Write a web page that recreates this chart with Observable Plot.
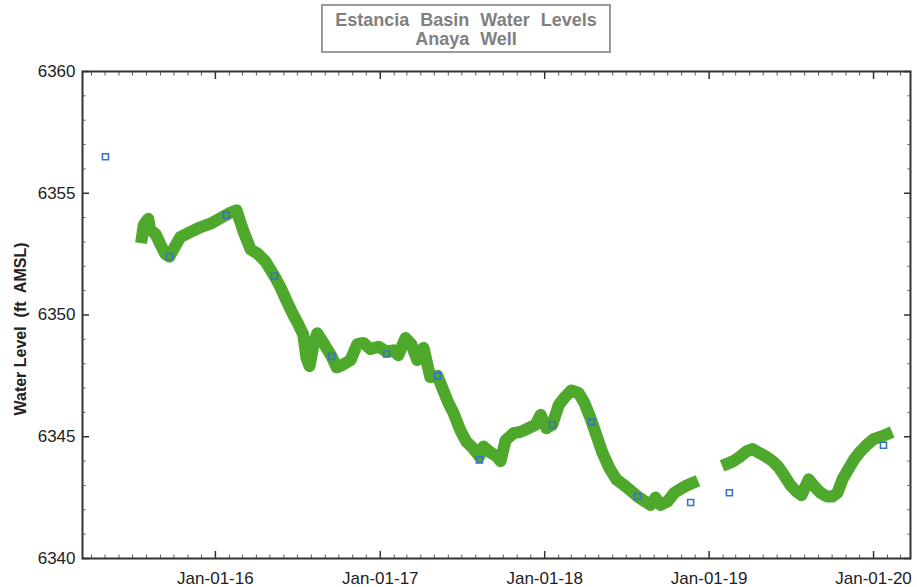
<!DOCTYPE html>
<html>
<head>
<meta charset="utf-8">
<script src="https://cdn.jsdelivr.net/npm/d3@7"></script>
<script src="https://cdn.jsdelivr.net/npm/@observablehq/plot@0.6"></script>
<style>
  body { margin: 0; background: #fff; font-family: "Liberation Sans", Arial, sans-serif; }
  #head { position: relative; width: 917px; height: 60px; }
  #title { position: absolute; left: 321px; top: 4px; width: 290px; height: 49px; box-sizing: border-box;
           border: 2px solid #9a9a9a; color: #808080; font-weight: bold; font-size: 18px; line-height: 19px;
           text-align: center; word-spacing: 6px; padding-top: 5px; white-space: nowrap; }
</style>
</head>
<body>
<div id="head"><div id="title">Estancia Basin Water Levels<br>Anaya Well</div></div>
<div id="chart"></div>
<script>
// Continuous (logger) record, segment 1
const seg1Dates = ["2015-07-22","2015-07-26","2015-08-05","2015-08-09","2015-08-21","2015-09-01","2015-09-12","2015-09-21","2015-09-30","2015-10-15","2015-11-06","2015-11-28","2015-12-21","2016-01-19","2016-02-03","2016-02-17","2016-03-03","2016-03-19","2016-04-05","2016-04-21","2016-05-11","2016-05-24","2016-06-09","2016-06-22","2016-07-01","2016-07-14","2016-07-21","2016-07-28","2016-08-06","2016-08-14","2016-08-28","2016-09-15","2016-09-26","2016-10-09","2016-10-27","2016-11-11","2016-11-25","2016-12-10","2016-12-28","2017-01-15","2017-01-30","2017-02-10","2017-02-26","2017-03-11","2017-03-24","2017-04-07","2017-04-22","2017-05-08","2017-05-21","2017-06-01","2017-06-12","2017-06-28","2017-07-11","2017-07-25","2017-08-09","2017-08-18","2017-09-03","2017-09-16","2017-09-25","2017-10-06","2017-10-24","2017-11-08","2017-11-26","2017-12-12","2017-12-23","2018-01-05","2018-01-18","2018-02-01","2018-02-16","2018-03-01","2018-03-17","2018-03-30","2018-04-13","2018-04-26","2018-05-09","2018-05-25","2018-06-09","2018-06-27","2018-07-13","2018-07-26","2018-08-11","2018-08-24","2018-09-04","2018-09-15","2018-10-01","2018-10-16","2018-10-29","2018-11-12","2018-11-25"];
const seg1Levels = [6353.2,6353.7,6353.95,6353.5,6353.33,6352.9,6352.5,6352.4,6352.7,6353.2,6353.4,6353.6,6353.75,6354.05,6354.2,6354.3,6353.45,6352.7,6352.5,6352.2,6351.6,6351.15,6350.5,6350.0,6349.7,6349.2,6348.25,6347.9,6348.8,6349.25,6348.85,6348.3,6347.85,6347.95,6348.15,6348.8,6348.85,6348.6,6348.7,6348.5,6348.55,6348.35,6349.05,6348.8,6348.15,6348.65,6347.45,6347.5,6346.9,6346.4,6346.0,6345.25,6344.8,6344.55,6344.2,6344.6,6344.35,6344.2,6344.0,6344.85,6345.15,6345.2,6345.35,6345.5,6345.9,6345.35,6345.5,6346.3,6346.65,6346.9,6346.8,6346.4,6345.75,6345.05,6344.35,6343.7,6343.25,6343.0,6342.75,6342.55,6342.35,6342.2,6342.5,6342.2,6342.35,6342.7,6342.85,6343.0,6343.1];
// Continuous record, segment 2
const seg2Dates = ["2019-02-11","2019-02-24","2019-03-12","2019-03-25","2019-04-07","2019-04-21","2019-05-06","2019-05-22","2019-06-04","2019-06-17","2019-07-01","2019-07-14","2019-07-25","2019-08-10","2019-08-23","2019-09-05","2019-09-19","2019-10-02","2019-10-13","2019-10-24","2019-11-07","2019-11-20","2019-12-03","2019-12-19","2020-01-01","2020-01-17","2020-01-30"];
const seg2Levels = [6343.9,6344.0,6344.2,6344.4,6344.5,6344.35,6344.2,6344.0,6343.75,6343.4,6343.0,6342.75,6342.6,6343.25,6342.95,6342.7,6342.55,6342.55,6342.7,6343.25,6343.7,6344.1,6344.4,6344.7,6344.9,6345.0,6345.1];
// Manual measurements
const manualDates = ["2015-05-02","2015-09-21","2016-01-25","2016-05-11","2016-09-15","2017-01-15","2017-05-08","2017-08-09","2018-01-18","2018-04-15","2018-07-26","2018-11-21","2019-02-15","2020-01-23"];
const manualLevels = [6356.5,6352.4,6354.1,6351.6,6348.3,6348.4,6347.5,6344.05,6345.5,6345.6,6342.55,6342.3,6342.7,6344.65];
// Axes
const xDomain = ["2015-03-12","2020-03-23"];
const xTicks = ["2016-01-01","2017-01-01","2018-01-01","2019-01-01","2020-01-01"];
const yDomain = [6340, 6360];
const yTicks = [6340, 6345, 6350, 6355, 6360];
const yMinorTicks = [6341,6342,6343,6344,6346,6347,6348,6349,6351,6352,6353,6354,6356,6357,6358,6359];
const yLabel = "Water Level  (ft  AMSL)";

const P = d3.utcParse("%Y-%m-%d");
const seg1 = seg1Dates.map((d, i) => ({date: P(d), level: seg1Levels[i]}));
const seg2 = seg2Dates.map((d, i) => ({date: P(d), level: seg2Levels[i]}));
const manual = manualDates.map((d, i) => ({date: P(d), level: manualLevels[i]}));
const xt = xTicks.map(P);
const xMinor = d3.utcMonth.range(P(xDomain[0]), P(xDomain[1])).filter(d => d.getUTCMonth() !== 0);

const green = "#4ea82b";
const fmt = d3.utcFormat("%b-%d-%y");

const chart = Plot.plot({
  width: 917,
  height: 527,
  marginLeft: 82,
  marginRight: 7,
  marginTop: 11,
  marginBottom: 29,
  style: {fontFamily: "'Liberation Sans', Arial, sans-serif", fontSize: "17px", color: "#222", background: "white"},
  x: {type: "utc", domain: xDomain.map(P)},
  y: {domain: yDomain},
  marks: [
    Plot.line(seg1, {x: "date", y: "level", stroke: green, strokeWidth: 12, strokeLinejoin: "round", strokeLinecap: "square"}),
    Plot.line(seg2, {x: "date", y: "level", stroke: green, strokeWidth: 12, strokeLinejoin: "round", strokeLinecap: "square"}),
    Plot.dot(manual, {x: "date", y: "level", symbol: "square", r: 3.4, stroke: "#3a74c0", strokeWidth: 1.6, fill: "none"}),
    Plot.frame({stroke: "#333", strokeWidth: 2}),
    Plot.axisX(xt, {anchor: "bottom", tickSize: -7, tickPadding: 20, tickFormat: fmt, label: null, stroke: "#333", strokeWidth: 1.5}),
    Plot.axisX(xt, {anchor: "top", tickSize: -7, text: null, label: null, stroke: "#333", strokeWidth: 1.5}),
    Plot.axisX(xMinor, {anchor: "bottom", tickSize: -3.5, text: null, label: null, stroke: "#555"}),
    Plot.axisX(xMinor, {anchor: "top", tickSize: -3.5, text: null, label: null, stroke: "#555"}),
    Plot.axisY(yTicks, {anchor: "left", tickSize: -7, tickPadding: 14, tickFormat: d => String(d), label: null, stroke: "#333", strokeWidth: 1.5}),
    Plot.axisY(yTicks, {anchor: "right", tickSize: -7, text: null, label: null, stroke: "#333", strokeWidth: 1.5}),
    Plot.axisY(yMinorTicks, {anchor: "left", tickSize: -3.5, text: null, label: null, stroke: "#555"}),
    Plot.axisY(yMinorTicks, {anchor: "right", tickSize: -3.5, text: null, label: null, stroke: "#555"}),
    Plot.text([yLabel], {frameAnchor: "left", textAnchor: "middle", rotate: -90, dx: -62, dy: 14, fontWeight: "bold", fontSize: 16, fill: "#222"})
  ]
});
document.getElementById("chart").appendChild(chart);
</script>
</body>
</html>
